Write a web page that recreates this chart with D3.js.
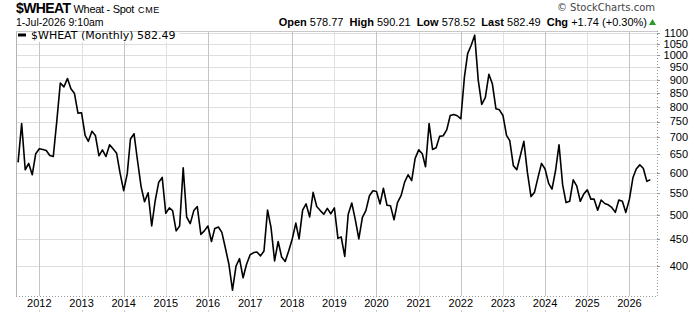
<!DOCTYPE html>
<html>
<head>
<meta charset="utf-8">
<script src="https://cdn.jsdelivr.net/npm/d3@7"></script>
<style>
  body { margin: 0; background: #fff; }
  svg { display: block; font-family: "Liberation Sans", Arial, sans-serif; }
</style>
</head>
<body>
<div id="chart"></div>
<script>
// header texts
const symbol = "$WHEAT";
const title = "Wheat - Spot";
const exchange = "CME";
const stamp = "1-Jul-2026 9:10am";
const quoteLabels = ["Open", "High", "Low", "Last", "Chg"];
const quoteValues = ["578.77", "590.21", "578.52", "582.49", "+1.74 (+0.30%)"];
const legendText = "$WHEAT (Monthly) 582.49";

// monthly closes, first one is Jul 2011
const firstYear = 2011, firstMonth = 6;
const closes = [
  628, 743, 608, 625, 595, 652,
  666, 664, 661, 647, 644, 753, 887, 872, 904, 865, 847, 778,
  779, 706, 688, 719, 706, 646, 663, 644, 678, 666, 653, 599,
  555, 597, 695, 711, 633, 565, 529, 550, 476, 531, 576, 588,
  503, 515, 509, 466, 476, 613, 495, 481, 509, 518, 459, 466,
  476, 445, 471, 474, 463, 432, 403, 360, 400, 413, 380, 403,
  420, 424, 425, 418, 427, 510, 473, 409, 445, 416, 408, 427,
  450, 482, 450, 510, 524, 495, 551, 518, 509, 501, 514, 502,
  515, 451, 454, 417, 501, 526, 490, 450, 494, 509, 543, 555,
  553, 524, 561, 521, 520, 489, 527, 543, 576, 595, 580, 639,
  663, 652, 616, 743, 664, 669, 703, 705, 723, 770, 773, 769,
  759, 910, 1008, 1045, 1092, 897, 808, 832, 921, 884, 793, 789,
  770, 706, 690, 619, 608, 647, 688, 601, 541, 551, 588, 625,
  610, 573, 559, 606, 678, 570, 527, 530, 582, 567, 530, 547,
  557, 535, 535, 510, 533, 525, 522, 516, 505, 533, 530, 505,
  535, 588, 610, 621, 612, 578, 582.49
];

const yTicks = [400, 450, 500, 550, 600, 650, 700, 750, 800, 850, 900, 950, 1000, 1050, 1100];
const yearTicks = d3.range(2012, 2027);

const W = 700, H = 312;
const plot = { left: 16, right: 657, top: 31, bottom: 296 };

const data = closes.map((v, i) => ({ date: new Date(Date.UTC(firstYear, firstMonth + i, 1)), value: v }));

const x = d3.scaleUtc()
  .domain([new Date(Date.UTC(2011, 5, 13)), new Date(Date.UTC(2026, 7, 28))])
  .range([plot.left, plot.right]);

const y = d3.scaleLog()
  .domain([351, 1112])
  .range([plot.bottom, plot.top]);

const svg = d3.select("#chart").append("svg")
  .attr("width", W)
  .attr("height", H);

// grid
svg.append("g")
  .selectAll("line")
  .data(yTicks)
  .join("line")
  .attr("x1", plot.left).attr("x2", plot.right)
  .attr("y1", d => Math.round(y(d)) + 0.5).attr("y2", d => Math.round(y(d)) + 0.5)
  .attr("stroke", "#dedede");

svg.append("g")
  .selectAll("line")
  .data(yearTicks)
  .join("line")
  .attr("x1", d => Math.round(x(new Date(Date.UTC(d, 0, 1)))) + 0.5)
  .attr("x2", d => Math.round(x(new Date(Date.UTC(d, 0, 1)))) + 0.5)
  .attr("y1", plot.top).attr("y2", plot.bottom)
  .attr("stroke", d => d % 2 === 0 ? "#c4c4c4" : "#e0e0e0");

// frame
svg.append("line")
  .attr("x1", plot.left + 0.5).attr("x2", plot.left + 0.5)
  .attr("y1", plot.top).attr("y2", plot.bottom)
  .attr("stroke", "#b4b4b4");
svg.append("line")
  .attr("x1", plot.left).attr("x2", plot.right)
  .attr("y1", plot.top + 0.5).attr("y2", plot.top + 0.5)
  .attr("stroke", "#c8c8c8");
svg.append("line")
  .attr("x1", plot.right + 0.5).attr("x2", plot.right + 0.5)
  .attr("y1", plot.top).attr("y2", plot.bottom)
  .attr("stroke", "#999").attr("stroke-dasharray", "1,2");
svg.append("line")
  .attr("x1", plot.left).attr("x2", plot.right)
  .attr("y1", plot.bottom + 0.5).attr("y2", plot.bottom + 0.5)
  .attr("stroke", "#999").attr("stroke-dasharray", "1,2");

// price line
svg.append("clipPath").attr("id", "clip")
  .append("rect")
  .attr("x", plot.left + 1).attr("y", plot.top + 1)
  .attr("width", plot.right - plot.left - 1).attr("height", plot.bottom - plot.top - 1);

svg.append("path")
  .datum(data)
  .attr("clip-path", "url(#clip)")
  .attr("fill", "none")
  .attr("stroke", "#000")
  .attr("stroke-width", 1.6)
  .attr("stroke-linejoin", "round")
  .attr("d", d3.line().x(d => x(d.date)).y(d => y(d.value)));

// right axis
const yAxis = svg.append("g");
yAxis.selectAll("line")
  .data(yTicks)
  .join("line")
  .attr("x1", plot.right).attr("x2", plot.right + 3)
  .attr("y1", d => Math.round(y(d)) + 0.5).attr("y2", d => Math.round(y(d)) + 0.5)
  .attr("stroke", "#999");
yAxis.selectAll("text")
  .data(yTicks)
  .join("text")
  .attr("x", 688)
  .attr("y", d => y(d))
  .attr("dy", "0.36em")
  .attr("text-anchor", "end")
  .attr("font-size", 11)
  .attr("fill", "#000")
  .text(d => d);

// bottom axis
const xAxis = svg.append("g");
xAxis.selectAll("text")
  .data(yearTicks)
  .join("text")
  .attr("x", d => x(new Date(Date.UTC(d, 0, 1))))
  .attr("y", 307)
  .attr("text-anchor", "middle")
  .attr("font-size", 11)
  .attr("fill", "#000")
  .text(d => d);
xAxis.selectAll("line")
  .data(yearTicks)
  .join("line")
  .attr("x1", d => Math.round(x(new Date(Date.UTC(d, 0, 1)))) + 0.5)
  .attr("x2", d => Math.round(x(new Date(Date.UTC(d, 0, 1)))) + 0.5)
  .attr("y1", 310).attr("y2", 312)
  .attr("stroke", "#ccc");

// legend
svg.append("rect")
  .attr("x", plot.left + 1).attr("y", plot.top + 1)
  .attr("width", 162).attr("height", 10)
  .attr("fill", "#fff");
svg.append("line")
  .attr("x1", 18).attr("x2", 26)
  .attr("y1", 35).attr("y2", 35)
  .attr("stroke", "#000").attr("stroke-width", 3);
svg.append("text")
  .attr("x", 31).attr("y", 39)
  .attr("font-family", "'DejaVu Sans', Verdana, sans-serif")
  .attr("font-size", 11)
  .text(legendText);

// header
const head = svg.append("text").attr("x", 16).attr("y", 13);
head.append("tspan").attr("font-weight", "bold").attr("font-size", 14).attr("letter-spacing", -0.6).text(symbol);
head.append("tspan").attr("dx", 3).attr("font-size", 11).attr("letter-spacing", -0.3).text(title);
head.append("tspan").attr("dx", 4).attr("font-size", 9).attr("letter-spacing", 0.6).text(exchange);

svg.append("text")
  .attr("x", 16).attr("y", 26)
  .attr("font-size", 10.5)
  .text(stamp);

const quote = svg.append("text")
  .attr("x", 647).attr("y", 26)
  .attr("text-anchor", "end")
  .attr("font-size", 11);
quoteLabels.forEach((lab, i) => {
  quote.append("tspan").attr("font-weight", "bold").attr("dx", i ? 6 : 0).text(lab + " ");
  quote.append("tspan").text(quoteValues[i]);
});

svg.append("path")
  .attr("d", d3.symbol(d3.symbolTriangle, 22)())
  .attr("transform", "translate(652.5,23)")
  .attr("fill", "#2a9a2a");

svg.append("text")
  .attr("x", 655).attr("y", 11)
  .attr("text-anchor", "end")
  .attr("font-family", "'DejaVu Sans', Verdana, sans-serif")
  .attr("font-size", 10)
  .attr("fill", "#444")
  .text("\u00a9 StockCharts.com");
</script>
</body>
</html>
